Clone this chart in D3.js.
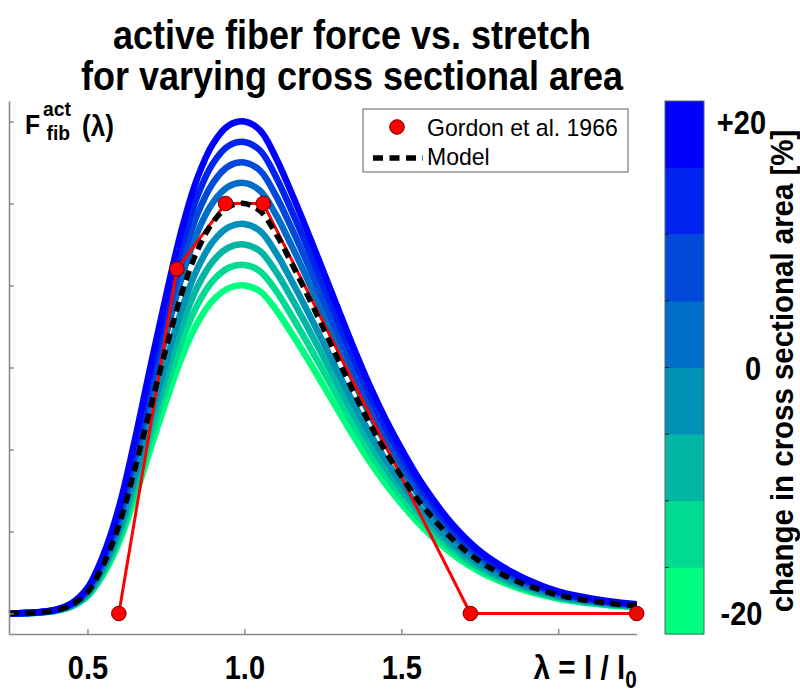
<!DOCTYPE html>
<html><head><meta charset="utf-8">
<script src="https://cdn.jsdelivr.net/npm/d3@7"></script>
<style>
body{margin:0;background:#fff}
svg{display:block}
text{font-family:"Liberation Sans",Arial,Helvetica,sans-serif}
</style>
</head><body>
<svg id="chart" width="800" height="696"></svg>
<script>
// ---- data ----
const lambdaValues = [0.25,0.30,0.35,0.40,0.45,0.50,0.55,0.60,0.65,0.70,0.75,0.80,0.85,0.90,0.95,1.00,1.05,1.10,1.15,1.20,1.25,1.30,1.35,1.40,1.45,1.50,1.55,1.60,1.65,1.70,1.75,1.80,1.85,1.90,1.95,2.00,2.05,2.10,2.15,2.20,2.25];
const modelForce   = [0.000,0.001,0.003,0.008,0.021,0.052,0.118,0.215,0.350,0.500,0.645,0.780,0.885,0.955,0.992,1.000,0.982,0.927,0.855,0.778,0.698,0.617,0.537,0.462,0.395,0.335,0.280,0.233,0.191,0.156,0.127,0.104,0.085,0.069,0.056,0.045,0.037,0.031,0.026,0.022,0.019];
const areaChanges  = [-20,-15,-10,-5,5,10,15,20];
const curvePeaks   = [0.80,0.85,0.90,0.95,1.05,1.10,1.15,1.20];
const gordonLambda = [0.60,0.785,0.94,1.06,1.72,2.25];
const gordonForce  = [0,0.84,1.0,1.0,0,0];
const xTicks = [0.5,1.0,1.5,2.0];
const xTickLabels = ["0.5","1.0","1.5",""];
const yTicks = [0,0.2,0.4,0.6,0.8,1.0,1.2];
const colorbarTicks = [-20,0,20];
const colorbarTickLabels = ["-20","0","+20"];
const colorbarBandCount = 8;

// ---- layout ----
const svg = d3.select("#chart");
const x = d3.scaleLinear().domain([0.25,2.25]).range([9,636.7]);
const y = d3.scaleLinear().domain([-0.05,1.25]).range([634,101]);
const winter = t => d3.rgb(0, Math.round(255*(1-t)), Math.round(255*(0.5+0.5*t)));
const colorOf = i => winter(i/(colorbarBandCount-1));

// condensed bold text helper (Helvetica-like narrow look)
function label(parent, px, py, size, sx, str, anchor, weight){
  return parent.append("text")
    .attr("transform",`translate(${px},${py}) scale(${sx},1)`)
    .attr("font-size",size).attr("font-weight",weight||"bold")
    .attr("text-anchor",anchor||"start").text(str);
}

// title
label(svg,352,49,40,0.9,"active fiber force vs. stretch","middle");
label(svg,352,90,40,0.9,"for varying cross sectional area","middle");

// curves
const line = d3.line().x(d=>x(d[0])).y(d=>y(d[1])).curve(d3.curveCatmullRom.alpha(0.5));
const curves = svg.append("g");
curvePeaks.forEach((p,i)=>{
  const pts = lambdaValues.map((l,k)=>[l, modelForce[k]*p]);
  curves.append("path").attr("d",line(pts)).attr("fill","none")
    .attr("stroke",colorOf(i)).attr("stroke-width",6.5).attr("stroke-linejoin","round");
});

// Gordon line
const gordonPts = gordonLambda.map((l,k)=>[l,gordonForce[k]]);
svg.append("path").attr("d",d3.line().x(d=>x(d[0])).y(d=>y(d[1]))(gordonPts))
  .attr("fill","none").attr("stroke","#ff0000").attr("stroke-width",3);

// model dashed
svg.append("path").attr("d",line(lambdaValues.map((l,k)=>[l,modelForce[k]])))
  .attr("fill","none").attr("stroke","#000").attr("stroke-width",5.5).attr("stroke-dasharray","10,6.5");

// Gordon markers
svg.append("g").selectAll("circle").data(gordonPts).join("circle")
  .attr("cx",d=>x(d[0])).attr("cy",d=>y(d[1])).attr("r",7.3)
  .attr("fill","#ff0000").attr("stroke","#6b0000").attr("stroke-width",1);

// axes
const axisColor = "#8a8a8a";
const gy = svg.append("g").attr("transform",`translate(${x(0.25)},0)`)
  .call(d3.axisLeft(y).tickValues(yTicks).tickSizeInner(-5).tickSizeOuter(0).tickFormat(""));
const gx = svg.append("g").attr("transform",`translate(0,${y(-0.05)})`)
  .call(d3.axisBottom(x).tickValues(xTicks).tickSizeInner(-5).tickSizeOuter(0).tickFormat((d,i)=>xTickLabels[i]).tickPadding(0));
[gx,gy].forEach(g=>{
  g.select(".domain").attr("stroke",axisColor).attr("stroke-width",1.6);
  g.selectAll(".tick line").attr("stroke",axisColor).attr("stroke-width",1.4);
});
gx.selectAll(".tick text").attr("y",null).attr("dy",null)
  .attr("transform","translate(0,45) scale(0.88,1)")
  .attr("font-size",33).attr("font-weight","bold").attr("fill","#000");

// x label
const xl = svg.append("text").attr("transform",`translate(${x(2.25)},679) scale(0.9,1)`).attr("text-anchor","end")
  .attr("font-size",33).attr("font-weight","bold");
xl.append("tspan").text("λ = l / l");
xl.append("tspan").attr("font-size",23).attr("dy",9).text("0");

// y label
const yl = svg.append("g");
label(yl,25,134,28,0.88,"F");
label(yl,43,116,21,0.92,"act");
label(yl,46.5,140,21,0.92,"fib");
label(yl,82,136,29,0.9,"(λ)");

// legend
const lg = svg.append("g");
lg.append("rect").attr("x",363).attr("y",109).attr("width",265).attr("height",63)
  .attr("fill","#fff").attr("stroke","#777").attr("stroke-width",1.2);
lg.append("circle").attr("cx",397).attr("cy",127).attr("r",7.3).attr("fill","#ff0000").attr("stroke","#6b0000");
label(lg,427,136,24,0.96,"Gordon et al. 1966","start","normal");
lg.append("line").attr("x1",373).attr("x2",423).attr("y1",158).attr("y2",158)
  .attr("stroke","#000").attr("stroke-width",5.5).attr("stroke-dasharray","10,6.5");
label(lg,427,165,24,0.96,"Model","start","normal");

// colorbar
const cbX = 665, cbW = 39;
const band = d3.scaleBand().domain(d3.range(colorbarBandCount)).range([634,101]).paddingInner(0);
const cScale = d3.scaleLinear().domain([-21.7,21.7]).range([634,101]);
const cb = svg.append("g");
cb.selectAll("rect.b").data(d3.range(colorbarBandCount)).join("rect").attr("class","b")
  .attr("x",cbX).attr("width",cbW).attr("y",d=>band(d)).attr("height",band.bandwidth()+0.5)
  .attr("fill",d=>colorOf(d));
cb.append("rect").attr("x",cbX).attr("y",101).attr("width",cbW).attr("height",533)
  .attr("fill","none").attr("stroke","#4a6a6a").attr("stroke-width",1);
cb.selectAll("line.t").data(d3.range(1,colorbarBandCount)).join("line").attr("class","t")
  .attr("x1",cbX).attr("x2",cbX+4).attr("y1",d=>band(d)+band.bandwidth()).attr("y2",d=>band(d)+band.bandwidth())
  .attr("stroke","#222").attr("stroke-width",1);
colorbarTicks.forEach((d,i)=>{
  label(cb, d===0?753:741.5, cScale(d)+12, 33, 0.88, colorbarTickLabels[i], "middle");
});
svg.append("text").attr("transform","translate(793,371) rotate(-90) scale(0.95,1)")
  .attr("text-anchor","middle").attr("font-size",31).attr("font-weight","bold")
  .text("change in cross sectional area [%]");
</script>
</body></html>
